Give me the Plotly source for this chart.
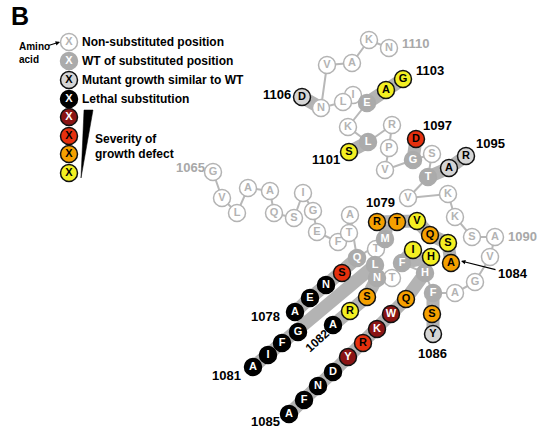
import plotly.graph_objects as go

# ---- main chain: residues 1065-1110 ----
chain_start = 1065
chain_letters = list("GVLAAQSIGEFTAQMTLNTFHFAGVASKKVTSGVPRLKEILNVAKN")
chain_x = [213, 222, 237, 248, 270, 274, 294, 303, 313, 317, 338, 349, 350,
           357, 385, 376, 375, 377, 392, 402, 425, 433, 455, 475, 490, 495,
           472, 455, 448, 408, 428, 432, 413, 385, 389, 392, 368, 348, 367,
           353, 343, 321, 327, 352, 369, 389]
chain_y = [172, 198, 213, 188, 191, 213, 218, 193, 211, 232, 242, 233, 215,
           258, 239, 249, 265, 278, 278, 263, 273, 293, 293, 282, 257, 237,
           237, 217, 194, 198, 177, 154, 160, 170, 148, 125, 142, 127, 103,
           95, 102, 108, 65, 63, 40, 48]
substituted_positions = [1078, 1079, 1081, 1082, 1084, 1085, 1086, 1095,
                         1097, 1101, 1103]

# ---- substitutions at each position (letter, growth class) ----
mut_1078 = (["S", "N", "E", "A"], ["strong", "lethal", "lethal", "lethal"],
            [342, 326, 310, 295], [273, 285, 298, 312])
mut_1079 = (["R", "T", "V"], ["moderate", "moderate", "mild"],
            [377, 397, 417], [222, 222, 221])
mut_1081 = (["G", "F", "I", "A"], ["lethal"] * 4,
            [298, 282, 268, 253], [332, 343, 355, 367])
mut_1082 = (["S", "R", "A"], ["moderate", "mild", "lethal"],
            [367, 350, 333], [297, 311, 325])
mut_1084 = (["I", "H", "Q", "S", "A"],
            ["mild", "mild", "moderate", "mild", "moderate"],
            [413, 431, 430, 448, 451], [250, 257, 235, 243, 263])
mut_1085 = (["Q", "W", "K", "R", "Y", "D", "N", "F", "A"],
            ["moderate", "severe", "severe", "strong", "severe",
             "lethal", "lethal", "lethal", "lethal"],
            [406, 391, 377, 363, 348, 333, 318, 304, 289],
            [299, 314, 329, 343, 357, 372, 386, 400, 414])
mut_1086 = (["S", "Y"], ["moderate", "similar"], [432, 433], [314, 334])
mut_1095 = (["A", "R"], ["similar", "similar"], [449, 466], [168, 156])
mut_1097 = (["D"], ["strong"], [416], [139])
mut_1101 = (["S"], ["mild"], [349], [152])
mut_1103 = (["A", "G"], ["mild", "mild"], [386, 403], [90, 79])
mut_1106 = (["D"], ["similar"], [302], [97])

mutant_sets = {1078: mut_1078, 1079: mut_1079, 1081: mut_1081,
               1082: mut_1082, 1084: mut_1084, 1085: mut_1085,
               1086: mut_1086, 1095: mut_1095, 1097: mut_1097,
               1101: mut_1101, 1103: mut_1103, 1106: mut_1106}

# position labels: text, x, y, colour
pos_labels = [("1106", 277, 94, "black"), ("1103", 430, 70, "black"),
              ("1097", 437, 125, "black"), ("1095", 490, 143, "black"),
              ("1101", 326, 159, "black"), ("1079", 380, 202, "black"),
              ("1086", 432, 353, "black"), ("1078", 265, 316, "black"),
              ("1081", 226, 375, "black"), ("1085", 265, 421, "black"),
              ("1110", 416, 43, "#a8a8a8"), ("1065", 190, 167, "#a8a8a8"),
              ("1090", 522, 236, "#a8a8a8")]

legend_labels = ["Non-substituted position", "WT of substituted position",
                 "Mutant growth similar to WT", "Lethal substitution"]
legend_classes = ["open", "wt", "similar", "lethal",
                  "severe", "strong", "moderate", "mild"]

STYLE = {
    "open": dict(fill="white", edge="#b3b3b3", text="#b3b3b3"),
    "wt": dict(fill="#ababab", edge="#ababab", text="white"),
    "similar": dict(fill="#d5d5d5", edge="#111111", text="black"),
    "lethal": dict(fill="#000000", edge="#000000", text="white"),
    "severe": dict(fill="#8a1414", edge="#111111", text="white"),
    "strong": dict(fill="#e6300e", edge="#111111", text="black"),
    "moderate": dict(fill="#f5a000", edge="#111111", text="black"),
    "mild": dict(fill="#f3ef22", edge="#111111", text="black"),
}
BAND = "#b3b3b3"
FONT = "Liberation Sans, Arial, sans-serif"

fig = go.Figure()


def add_band(xs, ys, width=13):
    fig.add_trace(go.Scatter(x=xs, y=ys, mode="lines", hoverinfo="skip",
                             line=dict(color=BAND, width=width),
                             showlegend=False))


def add_circles(xs, ys, letters, classes, size=17):
    for cls in STYLE:
        idx = [i for i, c in enumerate(classes) if c == cls]
        if not idx:
            continue
        st = STYLE[cls]
        fig.add_trace(go.Scatter(
            x=[xs[i] for i in idx], y=[ys[i] for i in idx],
            text=[letters[i] for i in idx], mode="markers+text",
            textposition="middle center", hoverinfo="skip", showlegend=False,
            marker=dict(size=size, color=st["fill"],
                        line=dict(color=st["edge"], width=1.5)),
            textfont=dict(family=FONT, size=11, color=st["text"],
                          weight="bold"),
        ))


def node(pos):
    i = pos - chain_start
    return chain_x[i], chain_y[i]


# bands linking each wild-type residue to its substitutions
for pos, mut in mutant_sets.items():
    wx, wy = node(pos)
    letters, classes, mx, my = mut
    if pos == 1079:
        add_band([wx, (mx[0] + mx[1]) / 2], [wy, my[1]])
        add_band(mx, my)
    elif pos == 1084:
        add_band([wx, mx[0]], [wy, my[0]])
        add_band([wx, mx[1]], [wy, my[1]])
        add_band([mut_1079[2][2], mx[2], mx[3], mx[4]],
                 [mut_1079[3][2], my[2], my[3], my[4]])
    else:
        add_band([wx] + mx, [wy] + my)

# thin backbone line
fig.add_trace(go.Scatter(x=chain_x, y=chain_y, mode="lines", hoverinfo="skip",
                         line=dict(color="#b8b8b8", width=2),
                         showlegend=False))

chain_classes = ["wt" if (chain_start + i) in substituted_positions else "open"
                 for i in range(len(chain_letters))]
add_circles(chain_x, chain_y, chain_letters, chain_classes)

for letters, classes, mx, my in mutant_sets.values():
    add_circles(mx, my, letters, classes)

# ---- legend ----
leg_y = [42, 61, 80, 99, 117, 136, 154, 173]
add_circles([69] * len(leg_y), leg_y, ["X"] * len(leg_y), legend_classes)
fig.add_trace(go.Scatter(x=[84, 93, 81, 84], y=[110, 110, 178, 110],
                         mode="lines", fill="toself", fillcolor="black",
                         line=dict(color="black", width=0.5),
                         hoverinfo="skip", showlegend=False))

bold12 = dict(family=FONT, size=12, color="black", weight="bold")
annotations = []
for txt, y in zip(legend_labels, leg_y[:4]):
    annotations.append(dict(x=80, y=y, text=txt, xanchor="left",
                            yanchor="middle", showarrow=False, font=bold12))
annotations.append(dict(x=93, y=139, text="Severity of", xanchor="left",
                        yanchor="middle", showarrow=False, font=bold12))
annotations.append(dict(x=93, y=154, text="growth defect", xanchor="left",
                        yanchor="middle", showarrow=False, font=bold12))
annotations.append(dict(x=17, y=53, text="Amino<br>acid", xanchor="left",
                        yanchor="middle", align="left", showarrow=False,
                        font=dict(family=FONT, size=10, color="black",
                                  weight="bold")))
annotations.append(dict(x=60, y=42, ax=47, ay=46, axref="x", ayref="y",
                        xref="x", yref="y", text="", showarrow=True,
                        arrowhead=2, arrowsize=0.8, arrowwidth=1.1,
                        arrowcolor="black"))
annotations.append(dict(x=20, y=16, text="B", showarrow=False,
                        xanchor="center", yanchor="middle",
                        font=dict(family=FONT, size=25, color="black",
                                  weight="bold")))

for txt, x, y, col in pos_labels:
    annotations.append(dict(x=x, y=y, text=txt, showarrow=False,
                            xanchor="center", yanchor="middle",
                            font=dict(family=FONT, size=13, color=col,
                                      weight="bold")))
annotations.append(dict(x=317, y=341, text="1082", textangle=-42,
                        showarrow=False, xanchor="center", yanchor="middle",
                        font=dict(family=FONT, size=12, color="black",
                                  weight="bold")))
annotations.append(dict(x=513, y=273, text="1084", showarrow=False,
                        xanchor="center", yanchor="middle",
                        font=dict(family=FONT, size=13, color="black",
                                  weight="bold")))
annotations.append(dict(x=461, y=261, ax=497, ay=270, axref="x", ayref="y",
                        xref="x", yref="y", text="", showarrow=True,
                        arrowhead=2, arrowsize=0.8, arrowwidth=1.1,
                        arrowcolor="black"))

fig.update_layout(
    width=537, height=433, margin=dict(l=0, r=0, t=0, b=0),
    paper_bgcolor="white", plot_bgcolor="white",
    xaxis=dict(range=[0, 537], visible=False, fixedrange=True),
    yaxis=dict(range=[433, 0], visible=False, fixedrange=True),
    annotations=annotations, showlegend=False,
)

fig.write_html("out.html")
